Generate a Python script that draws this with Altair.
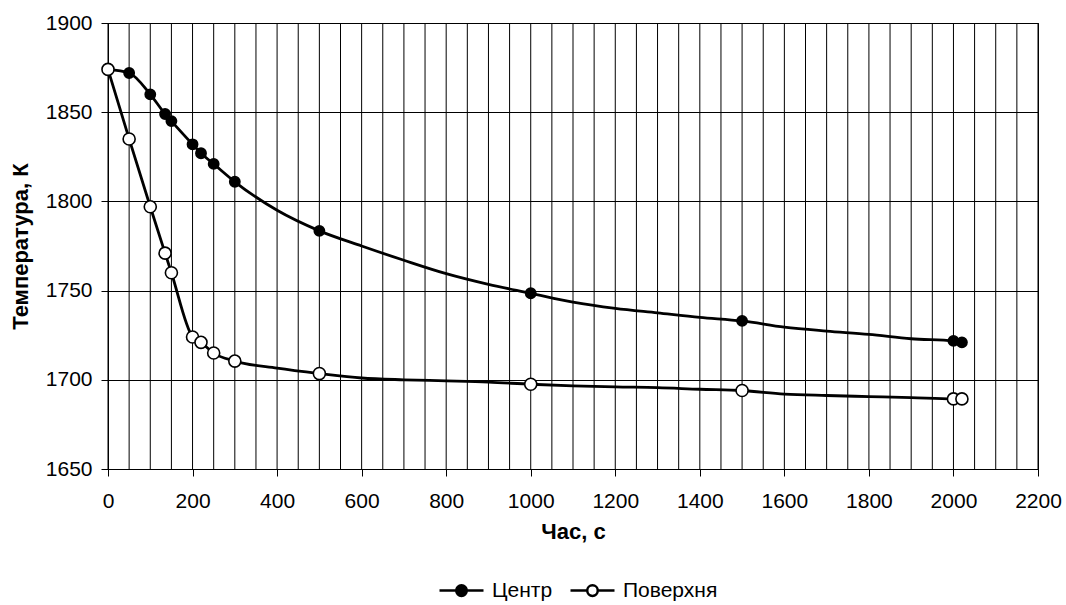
import altair as alt
import pandas as pd

FONT = "Liberation Sans"

series_names = ["Центр", "Поверхня"]

line_time = [0, 50, 100, 135, 150, 200, 220, 250, 300, 400, 500, 600, 700, 800, 900,
             1000, 1100, 1200, 1300, 1400, 1500, 1600, 1700, 1800, 1900, 2000, 2020]
center_line = [1874, 1872, 1860, 1849, 1845, 1832, 1827, 1821, 1811, 1795, 1783.5, 1775,
               1767, 1759.5, 1753.5, 1748.5, 1743.5, 1740, 1737.5, 1735, 1733, 1729.5,
               1727.3, 1725.5, 1723, 1721.8, 1721]
surface_line = [1874, 1835, 1797, 1771, 1760, 1724, 1721, 1715, 1710.5, 1706.5, 1703.5,
                1701, 1700, 1699.4, 1698.7, 1697.5, 1696.6, 1696, 1695.6, 1694.7, 1694,
                1692, 1691.2, 1690.6, 1690, 1689.3, 1689.3]

center_marker_time = [50, 100, 135, 150, 200, 220, 250, 300, 500, 1000, 1500, 2000, 2020]
surface_marker_time = [0, 50, 100, 135, 150, 200, 220, 250, 300, 500, 1000, 1500, 2000, 2020]

x_labels = list(range(0, 2201, 200))
x_grid = list(range(0, 2201, 50))
y_ticks = list(range(1650, 1901, 50))

rows = []
for t, c, s in zip(line_time, center_line, surface_line):
    rows.append({"t": t, "T": c, "series": series_names[0], "kind": "c", "order": 0,
                 "marker": t in center_marker_time})
    rows.append({"t": t, "T": s, "series": series_names[1], "kind": "s", "order": 1,
                 "marker": t in surface_marker_time})
df = pd.DataFrame(rows)
grid_df = pd.DataFrame({"g": x_grid})

x_scale = alt.Scale(domain=[0, 2200], nice=False, zero=False)
y_scale = alt.Scale(domain=[1650, 1900], nice=False, zero=False)

x_axis = alt.Axis(values=x_labels, grid=False, tickSize=7, tickColor="black",
                  domainColor="black", labelFontSize=21, labelFont=FONT,
                  labelColor="black", labelPadding=14, labelFlush=False,
                  labelOverlap=False, title="Час, с",
                  titleFont=FONT, titleFontSize=22, titleFontWeight="bold",
                  titleColor="black", titlePadding=10, format="d")
y_axis = alt.Axis(values=y_ticks, grid=True, gridColor="black", gridWidth=1,
                  gridOpacity=1, tickSize=7, tickColor="black", domainColor="black",
                  labelFontSize=21, labelFont=FONT, labelColor="black",
                  labelPadding=9, labelFlush=False, labelOverlap=False,
                  title="Температура, К", titleFont=FONT,
                  titleFontSize=22, titleFontWeight="bold", titleColor="black",
                  titlePadding=13, format="d")

grid = alt.Chart(grid_df).mark_rule(color="black", strokeWidth=1).encode(
    x=alt.X("g:Q", scale=x_scale, axis=x_axis)
)

lines = alt.Chart(df).mark_line(color="black", strokeWidth=2.8,
                                interpolate="monotone").encode(
    x=alt.X("t:Q", scale=x_scale, axis=x_axis),
    y=alt.Y("T:Q", scale=y_scale, axis=y_axis),
    detail="series:N",
    order="t:Q",
)

legend_path = ("M-1,0L-0.24,0M0.24,0L1,0M0.24,0A0.24,0.24,0,1,1,-0.24,0"
               "A0.24,0.24,0,1,1,0.24,0Z")

points = alt.Chart(df).transform_filter("datum.marker").mark_point(
    shape="circle", filled=True, stroke="black", strokeWidth=1.6, opacity=1
).encode(
    x=alt.X("t:Q", scale=x_scale, axis=x_axis),
    y=alt.Y("T:Q", scale=y_scale, axis=y_axis),
    fill=alt.Fill("series:N", scale=alt.Scale(domain=series_names,
                                               range=["black", "white"]),
                  legend=alt.Legend(title=None, orient="none",
                                    legendX=330, legendY=544,
                                    direction="horizontal",
                                    symbolType=legend_path, symbolSize=1936,
                                    symbolStrokeColor="black",
                                    symbolStrokeWidth=2.5,
                                    labelFont=FONT, labelFontSize=21,
                                    labelColor="black", labelOffset=7,
                                    columnPadding=12)),
    size=alt.Size("kind:N", scale=alt.Scale(domain=["c", "s"],
                                             range=[105, 145]),
                  legend=None),
    order=alt.Order("order:Q"),
)

chart = alt.layer(grid, lines, points).properties(
    width=930, height=446,
    padding={"left": 108, "top": 23, "right": 28, "bottom": 136},
    autosize=alt.AutoSizeParams(type="none"),
    background="white",
).configure_view(stroke="black", strokeWidth=1)

chart.save("out.html", embed_options={"renderer": "svg", "actions": False})
